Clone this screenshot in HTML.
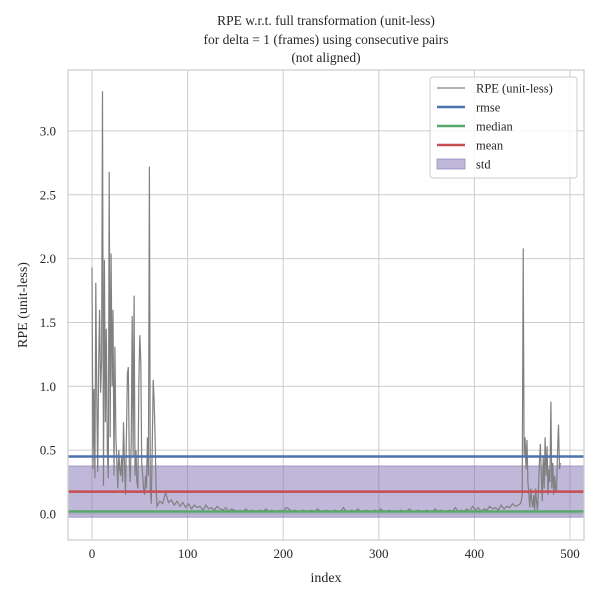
<!DOCTYPE html>
<html><head><meta charset="utf-8"><style>
body{margin:0;background:#fff}
svg text{font-family:"Liberation Serif","DejaVu Serif",serif;fill:#262626}
</style></head><body>
<svg id="chart" width="600" height="600" xmlns="http://www.w3.org/2000/svg">
<rect width="600" height="600" fill="#fff"/>
<g id="titles">
<text x="326" y="25" font-size="13.5" text-anchor="middle">RPE w.r.t. full transformation (unit-less)</text>
<text x="326" y="44" font-size="13.5" text-anchor="middle">for delta = 1 (frames) using consecutive pairs</text>
<text x="326" y="62" font-size="13.5" text-anchor="middle">(not aligned)</text>
</g>
<g id="grid"></g>
<g id="bands"></g>
<g id="series"></g>
<g id="frame"></g>
<g id="legend"></g>
</svg>
<script>
const spikeVals=[1.93,0.35,0.98,0.28,1.81,0.9,0.33,1.2,1.6,0.95,1.2,3.31,0.22,1.99,0.72,1.45,0.5,0.28,2.68,0.6,2.04,1.0,1.6,0.3,1.31,0.6,0.4,0.2,0.5,0.35,0.3,0.45,0.25,0.72,0.4,0.15,0.6,1.1,1.15,0.4,0.25,0.55,1.55,0.45,1.71,0.3,0.5,0.25,0.2,1.0,1.4,1.2,0.4,0.3,0.2,0.15,0.3,0.2,0.6,0.3,2.72,0.2,0.08,0.5,1.05,0.9,0.6,0.2];
const midVals=[0.06,0.1,0.08,0.17,0.09,0.11,0.07,0.1,0.06,0.09,0.05,0.08,0.04,0.07,0.05,0.06,0.03,0.07,0.04,0.05,0.03,0.06,0.04,0.03,0.05,0.02,0.04,0.03,0.02,0.03,0.02,0.04,0.02,0.03,0.02,0.02,0.03,0.02,0.04,0.02,0.03,0.02,0.02,0.03,0.02,0.05,0.04,0.02,0.03,0.02,0.02,0.03,0.02,0.02,0.03,0.02,0.04,0.02,0.02,0.03,0.02,0.02,0.03,0.02,0.02,0.05,0.02,0.02,0.03,0.02,0.04,0.02,0.02,0.03,0.02,0.02,0.03,0.02,0.04,0.02,0.02,0.03,0.02,0.02,0.02,0.03,0.02,0.02,0.04,0.02,0.02,0.03,0.02,0.02,0.03,0.02,0.02,0.04,0.02,0.03,0.02,0.02,0.03,0.02,0.05,0.02,0.03,0.02,0.04,0.02,0.06,0.03,0.05,0.02,0.04,0.03,0.06,0.04,0.05,0.03,0.07,0.04,0.06,0.05,0.08,0.06,0.07];
const endVals=[0.08,0.1,0.15,2.08,0.45,0.6,0.35,0.58,0.25,0.15,0.05,0.2,0.1,0.05,0.15,0.03,0.2,0.1,0.03,0.2,0.4,0.55,0.3,0.1,0.45,0.2,0.6,0.3,0.53,0.15,0.35,0.25,0.88,0.2,0.4,0.15,0.3,0.18,0.2,0.5,0.7,0.35,0.4];
const xTicks=[0,100,200,300,400,500];
const yTicks=[0.0,0.5,1.0,1.5,2.0,2.5,3.0];
const statNames=["rmse","median","mean"];
const statVals=[0.45,0.02,0.175];
const stdRange=[-0.025,0.376];

const NS="http://www.w3.org/2000/svg";
const L=68,R=584,T=70,B=540;
const X=v=>92+v*0.956;
const Y=v=>514-v*127.7;
function mk(tag,attrs,parent){const e=document.createElementNS(NS,tag);for(const k in attrs)e.setAttribute(k,attrs[k]);parent.appendChild(e);return e;}
const grid=document.getElementById('grid'),series=document.getElementById('series'),bands=document.getElementById('bands'),frame=document.getElementById('frame'),legend=document.getElementById('legend');
mk('rect',{x:L,y:T,width:R-L,height:B-T,fill:'#fff'},grid);
xTicks.forEach(t=>{
 const l=mk('line',{x1:X(t),x2:X(t),y1:T,y2:B,stroke:'#cccccc','stroke-width':1},grid);
 
 
 const tx=mk('text',{x:X(t),y:B+18,'font-size':13,'text-anchor':'middle'},frame);tx.textContent=t;
 
 
});
yTicks.forEach(t=>{
 const l=mk('line',{x1:L,x2:R,y1:Y(t),y2:Y(t),stroke:'#cccccc','stroke-width':1},grid);
 
 
 const tx=mk('text',{x:L-12,y:Y(t)+4.5,'font-size':13,'text-anchor':'end'},frame);tx.textContent=t.toFixed(1);
 
 
});
// std band
const sb=mk('rect',{x:L,y:Y(stdRange[1]),width:R-L,height:Y(stdRange[0])-Y(stdRange[1]),fill:'#8172b3','fill-opacity':0.5,stroke:'#8172b3','stroke-opacity':0.6},bands);


// series points
const pts=[];
spikeVals.forEach((v,i)=>pts.push([i,v]));
midVals.forEach((v,i)=>pts.push([spikeVals.length+i*3,v]));
endVals.forEach((v,i)=>pts.push([448+i,v]));
const pl=mk('polyline',{points:pts.map(p=>X(p[0]).toFixed(1)+','+Y(p[1]).toFixed(1)).join(' '),fill:'none',stroke:'#808080','stroke-width':1.2},series);


const colors={rmse:'#4c72b0',median:'#55a868',mean:'#c44e52'};
statNames.forEach((n,i)=>{
 const l=mk('line',{x1:L,x2:R,y1:Y(statVals[i]),y2:Y(statVals[i]),stroke:colors[n],'stroke-width':2.5},series);
 
 
});
mk('rect',{x:L,y:T,width:R-L,height:B-T,fill:'none',stroke:'#cccccc','stroke-width':1.2},frame);
const xl=mk('text',{x:326,y:582,'font-size':14,'text-anchor':'middle'},frame);xl.textContent='index';


const yl=mk('text',{x:27,y:305,'font-size':14,'text-anchor':'middle',transform:'rotate(-90 27 305)'},frame);yl.textContent='RPE (unit-less)';


// legend
mk('rect',{x:430,y:77,width:147,height:101,rx:3,fill:'#fff','fill-opacity':0.85,stroke:'#cccccc'},legend);
const entries=[['RPE (unit-less)','#808080','line',1.2],['rmse',colors.rmse,'line',2.5],['median',colors.median,'line',2.5],['mean',colors.mean,'line',2.5],['std','#8172b3','patch',0]];
entries.forEach((e,i)=>{
 const y=88+i*19;
 const g=mk('g',{},legend);
 
 
 if(e[2]==='line')mk('line',{x1:437,x2:465,y1:y,y2:y,stroke:e[1],'stroke-width':e[3]},g);
 else mk('rect',{x:437,y:y-5,width:28,height:10,fill:e[1],'fill-opacity':0.5,stroke:e[1],'stroke-opacity':0.6},g);
 const t=mk('text',{x:476,y:y+4.5,'font-size':12.5},g);t.textContent=e[0];
});
</script>
</body></html>
